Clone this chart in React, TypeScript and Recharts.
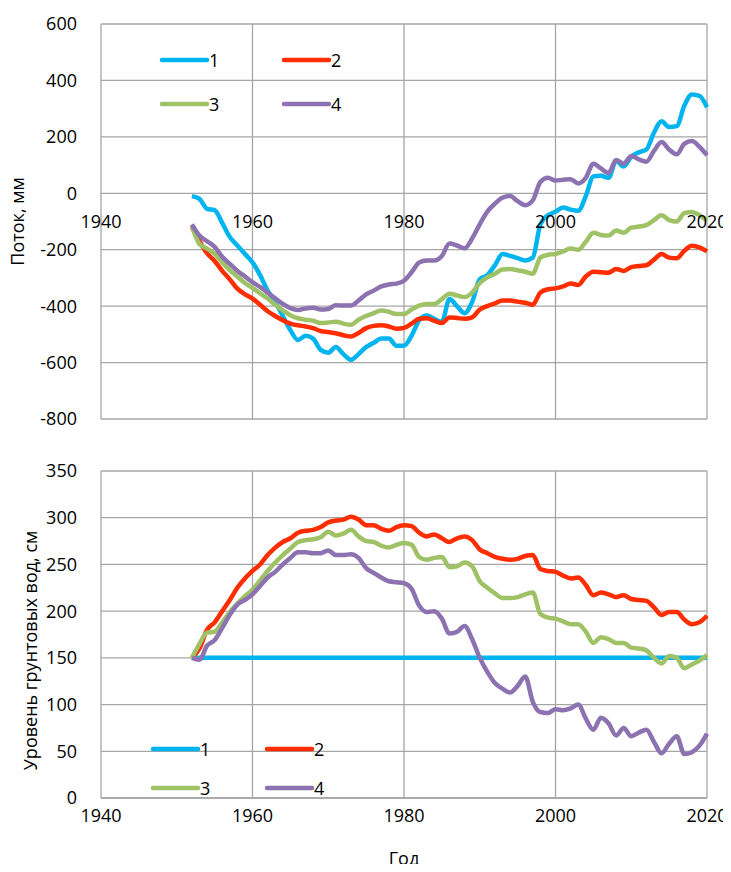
import React from 'react'
import { LineChart, Line, XAxis, YAxis, CartesianGrid, ReferenceDot, Legend } from 'recharts'

const years = [
  1952, 1953, 1954, 1955, 1956, 1957, 1958, 1959, 1960, 1961, 1962, 1963, 1964, 1965, 1966, 1967, 1968, 1969,
  1970, 1971, 1972, 1973, 1974, 1975, 1976, 1977, 1978, 1979, 1980, 1981, 1982, 1983, 1984, 1985, 1986, 1987,
  1988, 1989, 1990, 1991, 1992, 1993, 1994, 1995, 1996, 1997, 1998, 1999, 2000, 2001, 2002, 2003, 2004, 2005,
  2006, 2007, 2008, 2009, 2010, 2011, 2012, 2013, 2014, 2015, 2016, 2017, 2018, 2019, 2020,
]

// Поток, мм
const flow1 = [
  -10, -20, -55, -60, -105, -155, -185, -215, -245, -290, -345, -385, -435, -485, -520, -505, -515, -555,
  -565, -545, -570, -590, -570, -545, -530, -515, -515, -540, -540, -505, -450, -433, -445, -455, -375, -400,
  -425, -385, -305, -290, -255, -215, -222, -230, -238, -228, -110, -78, -65, -50, -58, -62, -10, 60,
  62, 55, 115, 95, 130, 145, 155, 215, 255, 235, 238, 310, 350, 345, 305,
]
const flow2 = [
  -120, -170, -212, -240, -275, -305, -338, -358, -373, -395, -418, -435, -450, -462, -468, -472, -478, -488,
  -492, -496, -503, -508, -495, -478, -470, -468, -472, -480, -477, -462, -445, -443, -452, -460, -440, -442,
  -445, -440, -412, -400, -390, -380, -380, -384, -388, -395, -352, -340, -337, -330, -320, -325, -295, -278,
  -280, -282, -268, -275, -262, -258, -255, -235, -215, -228, -230, -204, -186, -192, -206,
]
const flow3 = [
  -115, -180, -196, -215, -245, -272, -295, -318, -335, -355, -373, -395, -415, -432, -443, -448, -452, -460,
  -458, -455, -462, -466, -448, -435, -425, -415, -420, -428, -428, -412, -398, -392, -392, -375, -356, -362,
  -368, -352, -318, -298, -285, -270, -268, -273, -278, -285, -228, -218, -215, -206, -196, -200, -172, -140,
  -148, -150, -132, -140, -122, -118, -113, -95, -78, -95, -100, -70, -66, -78, -96,
]
const flow4 = [
  -110, -150, -170, -190, -225, -250, -275, -295, -315, -332, -352, -372, -392, -407, -414, -408, -406, -412,
  -410, -397, -398, -398, -380, -358, -345, -330, -323, -320, -310, -280, -245, -238, -238, -222, -178, -185,
  -195, -160, -110, -65, -37, -15, -10, -28, -42, -25, 40, 55, 45, 48, 50, 35, 55, 105,
  88, 72, 118, 105, 132, 120, 112, 150, 182, 155, 138, 175, 185, 165, 135,
]

// Уровень грунтовых вод, см
const level1 = [
  150, 150, 150, 150, 150, 150, 150, 150, 150, 150, 150, 150, 150, 150, 150, 150, 150, 150,
  150, 150, 150, 150, 150, 150, 150, 150, 150, 150, 150, 150, 150, 150, 150, 150, 150, 150,
  150, 150, 150, 150, 150, 150, 150, 150, 150, 150, 150, 150, 150, 150, 150, 150, 150, 150,
  150, 150, 150, 150, 150, 150, 150, 150, 150, 150, 150, 150, 150, 150, 150,
]
const level2 = [
  150, 160, 180, 188, 200, 212, 225, 235, 243, 250, 260, 268, 274, 278, 284, 286, 287, 290,
  295, 297, 298, 301, 298, 292, 292, 288, 286, 290, 292, 291, 284, 280, 282, 278, 274, 278,
  280, 276, 266, 262, 258, 256, 255, 256, 259, 260, 245, 243, 242, 238, 235, 236, 228, 217,
  220, 218, 215, 217, 213, 212, 211, 204, 196, 199, 199, 191, 186, 188, 195,
]
const level3 = [
  150, 165, 177, 178, 188, 199, 208, 216, 223, 233, 243, 252, 260, 267, 274, 276, 277, 279,
  285, 281, 283, 287, 280, 275, 274, 270, 268, 271, 273, 271, 258, 255, 257, 258, 247, 248,
  252, 248, 232, 225, 219, 214, 214, 215, 218, 220, 197, 193, 192, 189, 186, 186, 178, 166,
  172, 170, 166, 166, 161, 160, 158, 150, 144, 152, 150, 139, 143, 147, 153,
]
const level4 = [
  150, 148, 163, 169, 182, 196, 207, 212, 218, 227, 236, 242, 250, 257, 263, 263, 262, 262,
  265, 260, 260, 261, 257, 246, 241, 236, 232, 231, 230, 224, 206, 199, 200, 192, 176, 178,
  184, 170, 150, 135, 123, 117, 113, 120, 130, 103, 92, 91, 95, 94, 96, 100, 85, 73,
  86, 80, 67, 75, 66, 70, 73, 60, 48, 58, 66, 47, 49, 56, 69,
]

const yearTicks = [1940, 1960, 1980, 2000, 2020]
const flowTicks = [-800, -600, -400, -200, 0, 200, 400, 600]
const levelTicks = [0, 50, 100, 150, 200, 250, 300, 350]
const seriesNames = ['1', '2', '3', '4']
const colors = ['#00B5EF', '#FF2D00', '#A0C266', '#8C72B0']

const flowData = years.map((year, i) => ({ year, f1: flow1[i], f2: flow2[i], f3: flow3[i], f4: flow4[i] }))
const levelData = years.map((year, i) => ({ year, l1: level1[i], l2: level2[i], l3: level3[i], l4: level4[i] }))

const FONT = "'Open Sans', sans-serif"
const GRID = '#a6a6a6'
const tickStyle = { fontSize: 18, fill: '#000', fontFamily: FONT }

function makeLegend(colGap: number, rowGap: number) {
  return (props: any) => {
    const items = props.payload || []
    return (
      <svg width={2 * colGap} height={2 * rowGap} style={{ overflow: 'visible' }}>
        {items.map((it: any, i: number) => {
          const cx = (i % 2) * colGap
          const cy = Math.floor(i / 2) * rowGap + 10
          return (
            <g key={it.value}>
              <line x1={cx + 2} x2={cx + 47} y1={cy} y2={cy} stroke={it.color} strokeWidth={4.5} strokeLinecap="round" />
              <text x={cx + 49} y={cy} dominantBaseline="central" style={tickStyle}>{it.value}</text>
            </g>
          )
        })}
      </svg>
    )
  }
}

function yTitle(text: string, dx: number, dy: number) {
  return (props: any) => {
    const vb = props.viewBox
    const x = vb.x + dx
    const y = vb.y + vb.height / 2 + dy
    return (
      <text x={x} y={y} transform={`rotate(-90 ${x} ${y})`} textAnchor="middle" dominantBaseline="central" style={tickStyle}>
        {text}
      </text>
    )
  }
}

function xTitle(text: string, dy: number) {
  return (props: any) => {
    const vb = props.viewBox
    return (
      <text x={vb.x + vb.width / 2} y={vb.y + dy} textAnchor="middle" dominantBaseline="central" style={tickStyle}>
        {text}
      </text>
    )
  }
}

export default function App() {
  return (
    <div style={{ position: 'relative', width: 731, height: 872, margin: -8, background: '#fff', fontFamily: FONT }}>
      <div style={{ position: 'absolute', left: 0, top: 0, width: 731, height: 2, background: '#3a9ad9' }} />
      <div style={{ position: 'absolute', left: 0, top: 0 }}>
        <LineChart width={731} height={440} data={flowData} margin={{ top: 24, right: 24, bottom: 21, left: 5 }}>
          <CartesianGrid stroke={GRID} strokeWidth={1.3} />
          <XAxis dataKey="year" type="number" domain={[1940, 2020]} ticks={yearTicks} hide />
          <YAxis
            type="number"
            domain={[-800, 600]}
            ticks={flowTicks}
            width={96}
            axisLine={false}
            tickLine={false}
            tickMargin={18}
            tick={tickStyle}
            label={yTitle('Поток, мм', 12, 0)}
          />
          {yearTicks.map((y) => (
            <ReferenceDot
              key={y}
              x={y}
              y={0}
              r={0}
              fill="none"
              stroke="none"
              label={(p: any) => (
                <text x={p.viewBox.x} y={p.viewBox.y + 28} textAnchor="middle" dominantBaseline="central" style={tickStyle}>
                  {y}
                </text>
              )}
            />
          ))}
          <Legend
            layout="horizontal"
            verticalAlign="middle"
            align="center"
            content={makeLegend(122, 44)}
            wrapperStyle={{ left: 160, top: 50, width: 250 }}
          />
          {['f1', 'f2', 'f3', 'f4'].map((k, i) => (
            <Line key={k} dataKey={k} name={seriesNames[i]} type="monotone" stroke={colors[i]} strokeWidth={4.5} dot={false} isAnimationActive={false} />
          ))}
        </LineChart>
      </div>
      <div style={{ position: 'absolute', left: 0, top: 440 }}>
        <LineChart width={731} height={432} data={levelData} margin={{ top: 31, right: 24, bottom: 0, left: 5 }}>
          <CartesianGrid stroke={GRID} strokeWidth={1.3} />
          <XAxis
            dataKey="year"
            type="number"
            domain={[1940, 2020]}
            ticks={yearTicks}
            height={74}
            axisLine={{ stroke: GRID, strokeWidth: 1.3 }}
            tickLine={false}
            tickMargin={5}
            tick={tickStyle}
            label={xTitle('Год', 60)}
          />
          <YAxis
            type="number"
            domain={[0, 350]}
            ticks={levelTicks}
            width={96}
            axisLine={false}
            tickLine={false}
            tickMargin={18}
            tick={tickStyle}
            label={yTitle('Уровень грунтовых вод, см', 25, 16)}
          />
          <Legend
            layout="horizontal"
            verticalAlign="middle"
            align="center"
            content={makeLegend(114, 39)}
            wrapperStyle={{ left: 151, top: 299, width: 250 }}
          />
          {['l1', 'l2', 'l3', 'l4'].map((k, i) => (
            <Line key={k} dataKey={k} name={seriesNames[i]} type="monotone" stroke={colors[i]} strokeWidth={4.5} dot={false} isAnimationActive={false} />
          ))}
        </LineChart>
      </div>
    </div>
  )
}
